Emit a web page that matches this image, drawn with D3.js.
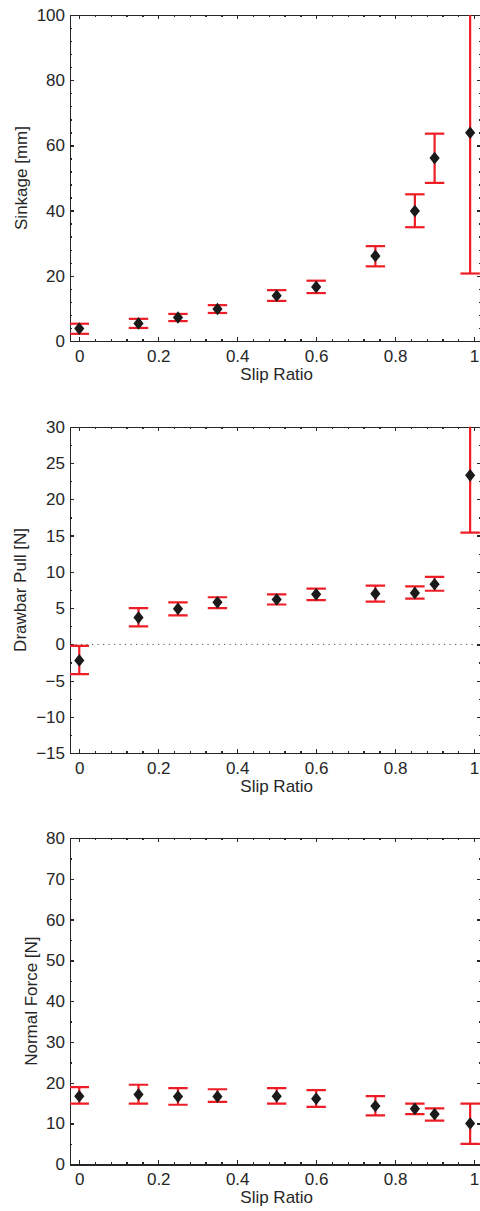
<!DOCTYPE html>
<meta charset="utf-8">
<style>

body { margin: 0; background: #fff; }

.axis path,
.axis line {
  stroke: #262626;
  stroke-width: 1.4px;
  shape-rendering: crispEdges;
}

.axis text {
  font-family: "Liberation Sans", Arial, sans-serif;
  font-size: 17px;
  fill: #262626;
}

.title {
  font-family: "Liberation Sans", Arial, sans-serif;
  font-size: 17px;
  fill: #262626;
}

.err line {
  stroke: #ee1c25;
  stroke-width: 2.2px;
}

.dot {
  fill: #1a1a1a;
}

.zero {
  stroke: #555;
  stroke-width: 1px;
  stroke-dasharray: 1.2,4.3;
}

</style>
<svg width="480" height="1211"></svg>
<script src="https://cdn.jsdelivr.net/npm/d3@7"></script>
<script>

// slip ratios shared by all three panels
var slip = [0, 0.15, 0.25, 0.35, 0.5, 0.6, 0.75, 0.85, 0.9, 0.99];

var sinkage   = [3.8, 5.4, 7.2, 9.8, 13.9, 16.6, 26.1, 39.9, 56.1, 63.9],
    sinkageLo = [2.2, 4.0, 6.1, 8.6, 12.3, 14.7, 22.9, 34.9, 48.5, 20.7],
    sinkageHi = [5.3, 6.8, 8.3, 11.0, 15.6, 18.5, 29.1, 45.0, 63.6, 107];

var pull   = [-2.2, 3.7, 4.9, 5.8, 6.2, 6.9, 7.0, 7.1, 8.3, 23.3],
    pullLo = [-4.1, 2.5, 4.0, 5.0, 5.5, 6.1, 5.9, 6.3, 7.4, 15.4],
    pullHi = [-0.2, 5.0, 5.8, 6.5, 6.9, 7.7, 8.1, 8.0, 9.3, 31.2];

var normal   = [16.7, 17.1, 16.6, 16.6, 16.7, 16.1, 14.3, 13.6, 12.3, 10.0],
    normalLo = [14.9, 14.9, 14.6, 15.3, 14.9, 14.1, 12.0, 12.3, 10.7, 5.0],
    normalHi = [18.9, 19.5, 18.7, 18.4, 18.7, 18.2, 16.7, 14.9, 13.7, 14.9];

var xTicks = [0, 0.2, 0.4, 0.6, 0.8, 1],
    xMinor = d3.range(0, 1.01, 0.04);

var sinkTicks = [0, 20, 40, 60, 80, 100],
    pullTicks = [-15, -10, -5, 0, 5, 10, 15, 20, 25, 30],
    normTicks = [0, 10, 20, 30, 40, 50, 60, 70, 80];

var svg = d3.select("svg");

var x = d3.scaleLinear()
    .domain([-0.0235, 1.0175])
    .range([70, 481]);

var fmtX = function(d) { return d === 0 || d === 1 ? d3.format("d")(d) : d3.format(".1f")(d); };

var panels = [
  {label: "Sinkage [mm]", mean: sinkage, lo: sinkageLo, hi: sinkageHi,
   domain: [0, 100], top: 15, bottom: 341, ticks: sinkTicks, minor: d3.range(0, 101, 4), titleX: 27, zero: false},
  {label: "Drawbar Pull [N]", mean: pull, lo: pullLo, hi: pullHi,
   domain: [-15, 30], top: 426.7, bottom: 753.3, ticks: pullTicks, minor: d3.range(-15, 30.1, 2.5), titleX: 26, zero: true},
  {label: "Normal Force [N]", mean: normal, lo: normalLo, hi: normalHi,
   domain: [0, 80], top: 838, bottom: 1164.3, ticks: normTicks, minor: d3.range(0, 81, 5), titleX: 37, zero: false}
];

panels.forEach(function(p, i) {
  var y = d3.scaleLinear().domain(p.domain).range([p.bottom, p.top]);
  var g = svg.append("g");
  var x0 = x.range()[0], x1 = x.range()[1];

  g.append("clipPath")
      .attr("id", "clip" + i)
    .append("rect")
      .attr("x", x0)
      .attr("y", p.top)
      .attr("width", x1 - x0)
      .attr("height", p.bottom - p.top);

  if (p.zero) {
    g.append("line")
        .attr("class", "zero")
        .attr("x1", x0)
        .attr("x2", x1)
        .attr("y1", y(0))
        .attr("y2", y(0));
  }

  // minor ticks on all four sides
  g.append("g").attr("class", "axis").attr("transform", "translate(0," + p.bottom + ")")
      .call(d3.axisBottom(x).tickValues(xMinor).tickSize(-2).tickSizeOuter(0).tickFormat(""));
  g.append("g").attr("class", "axis").attr("transform", "translate(0," + p.top + ")")
      .call(d3.axisTop(x).tickValues(xMinor).tickSize(-2).tickSizeOuter(0).tickFormat(""));
  g.append("g").attr("class", "axis").attr("transform", "translate(" + x0 + ",0)")
      .call(d3.axisLeft(y).tickValues(p.minor).tickSize(-2).tickSizeOuter(0).tickFormat(""));
  g.append("g").attr("class", "axis").attr("transform", "translate(" + x1 + ",0)")
      .call(d3.axisRight(y).tickValues(p.minor).tickSize(-2).tickSizeOuter(0).tickFormat(""));

  // major ticks with labels
  g.append("g").attr("class", "axis").attr("transform", "translate(0," + p.bottom + ")")
      .call(d3.axisBottom(x).tickValues(xTicks).tickSize(-4).tickSizeOuter(0).tickPadding(9).tickFormat(fmtX));
  g.append("g").attr("class", "axis").attr("transform", "translate(0," + p.top + ")")
      .call(d3.axisTop(x).tickValues(xTicks).tickSize(-4).tickSizeOuter(0).tickFormat(""));
  g.append("g").attr("class", "axis").attr("transform", "translate(" + x0 + ",0)")
      .call(d3.axisLeft(y).tickValues(p.ticks).tickSize(-4).tickSizeOuter(0).tickPadding(5).tickFormat(d3.format("d")));
  g.append("g").attr("class", "axis").attr("transform", "translate(" + x1 + ",0)")
      .call(d3.axisRight(y).tickValues(p.ticks).tickSize(-4).tickSizeOuter(0).tickFormat(""));

  var pts = slip.map(function(s, j) { return {x: s, m: p.mean[j], lo: p.lo[j], hi: p.hi[j]}; });

  var marks = g.append("g").attr("clip-path", "url(#clip" + i + ")");

  var err = marks.selectAll(".err")
    .data(pts)
    .enter().append("g")
      .attr("class", "err");

  err.append("line")
      .attr("x1", function(d) { return x(d.x); })
      .attr("x2", function(d) { return x(d.x); })
      .attr("y1", function(d) { return y(d.lo); })
      .attr("y2", function(d) { return y(d.hi); });

  err.append("line")
      .attr("x1", function(d) { return x(d.x) - 9.7; })
      .attr("x2", function(d) { return x(d.x) + 9.7; })
      .attr("y1", function(d) { return y(d.lo); })
      .attr("y2", function(d) { return y(d.lo); });

  err.append("line")
      .attr("x1", function(d) { return x(d.x) - 9.7; })
      .attr("x2", function(d) { return x(d.x) + 9.7; })
      .attr("y1", function(d) { return y(d.hi); })
      .attr("y2", function(d) { return y(d.hi); });

  marks.selectAll(".dot")
    .data(pts)
    .enter().append("path")
      .attr("class", "dot")
      .attr("d", function(d) {
        var cx = x(d.x), cy = y(d.m);
        return "M" + cx + "," + (cy - 6.3) + "L" + (cx + 5.1) + "," + cy +
               "L" + cx + "," + (cy + 6.3) + "L" + (cx - 5.1) + "," + cy + "Z";
      });

  g.append("text")
      .attr("class", "title")
      .attr("text-anchor", "middle")
      .attr("x", x(0.5))
      .attr("y", p.bottom + 39)
      .text("Slip Ratio");

  g.append("text")
      .attr("class", "title")
      .attr("text-anchor", "middle")
      .attr("transform", "translate(" + p.titleX + "," + ((p.top + p.bottom) / 2) + ")rotate(-90)")
      .text(p.label);
});

</script>
